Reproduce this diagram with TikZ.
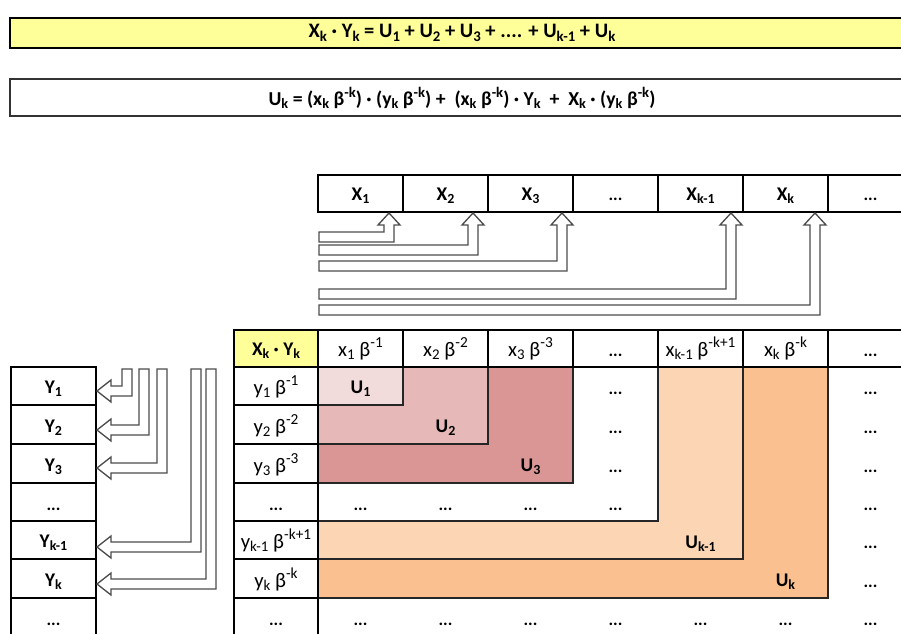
\documentclass[tikz,border=0pt]{standalone}
\usepackage{fontspec}
\usepackage{graphicx}
\setmainfont{Carlito}
\definecolor{banY}{HTML}{FFFF99}
\definecolor{cUa}{HTML}{F2DCDB}
\definecolor{cUb}{HTML}{E6B9B8}
\definecolor{cUc}{HTML}{D99694}
\definecolor{cUd}{HTML}{FCD5B5}
\definecolor{cUe}{HTML}{FAC090}
\newcommand{\sbs}[1]{\raisebox{-0.35ex}{\scalebox{0.72}{#1}}}
\newcommand{\sps}[1]{\raisebox{0.85ex}{\scalebox{0.74}{#1}}}
\newcommand{\harrowX}[2]{%
  \draw[hollow] (#1,213) -- (#1+11,225) -- (#1+5,225) -- (#1+5,#2+10) -- (319,#2+10) -- (319,#2) -- (#1-5,#2) -- (#1-5,225) -- (#1-11,225) -- cycle;}
\newcommand{\harrowY}[2]{%
  \draw[hollow] (97,#1) -- (111,#1-11) -- (111,#1-5) -- (#2,#1-5) -- (#2,369) -- (#2+10,369) -- (#2+10,#1+5) -- (111,#1+5) -- (111,#1+11) -- cycle;}
\tikzset{
  hollow/.style={draw=black!70, line width=1pt, fill=white, line join=miter},
  thickb/.style={line width=1.8pt, draw=black},
  medb/.style={line width=1.1pt, draw=black},
  thinb/.style={line width=0.8pt, draw=black!85},
  lbl/.style={anchor=base, inner sep=0pt, font=\fontsize{14.5}{16}\selectfont\bfseries},
  rlbl/.style={anchor=base, inner sep=0pt, font=\fontsize{15.5}{17}\selectfont},
  dots/.style={anchor=base, inner sep=0pt, font=\fontsize{13}{15}\selectfont\bfseries},
  ban/.style={anchor=center, inner sep=0pt, font=\fontsize{14.8}{17}\selectfont\bfseries}
}
\begin{document}
\begin{tikzpicture}[x=0.75pt,y=-0.75pt]
\useasboundingbox (0,0) rectangle (901,633);
\clip (0,0) rectangle (901,633);
% banners
\path[thickb, fill=banY] (10,18) rectangle (916,48);
\node[ban, font=\fontsize{15.4}{17}\selectfont\bfseries] (f1) at (462,33) {X\sbs{k} · Y\sbs{k} = U\sbs{1} + U\sbs{2} + U\sbs{3} + .... + U\sbs{k-1} + U\sbs{k}};
\path[draw=black!80, line width=1pt] (10,79) rectangle (916,116);
\node[ban] (f2) at (462,98) {U\sbs{k} = (x\sbs{k} β\sps{-k}) · (y\sbs{k} β\sps{-k}) +\ \ (x\sbs{k} β\sps{-k}) · Y\sbs{k}\ \ +\ \ X\sbs{k} · (y\sbs{k} β\sps{-k})};
% X row
\path[thickb] (318,175) rectangle (916,212);
\foreach \c in {403,488,573,658,743,828} \draw[medb] (\c,175) -- (\c,212);
\node[lbl] (x1) at (360.5,200) {X\sbs{1}};
\node[lbl] (x2) at (445.5,200) {X\sbs{2}};
\node[lbl] (x3) at (530.5,200) {X\sbs{3}};
\node[dots] (x4) at (615.5,200) {...};
\node[lbl] (x5) at (700.5,200) {X\sbs{k-1}};
\node[lbl] (x6) at (785.5,200) {X\sbs{k}};
\node[dots] (x7) at (870.5,200) {...};
% X arrows
\harrowX{389}{232}
\harrowX{473}{245}
\harrowX{562}{261}
\harrowX{731}{289}
\harrowX{815}{305}
% coloured regions
\path[thinb, fill=cUe] (318,367) rectangle (828,598);
\path[thinb, fill=cUd] (318,367) rectangle (743,559);
\path[thinb, fill=white] (318,367) rectangle (658,521);
\path[thinb, fill=cUc] (318,367) rectangle (573,483);
\path[thinb, fill=cUb] (318,367) rectangle (488,444);
\path[thinb, fill=cUa] (318,367) rectangle (403,405);
% table grid
\path[fill=banY] (234,330) rectangle (318,367);
\foreach \c in {403,488,573,658,743,828} \draw[medb] (\c,330) -- (\c,367);
\foreach \r in {405,444,483,521,559,598} \draw[medb] (234,\r) -- (318,\r);
\draw[thickb] (234,330) -- (916,330);
\draw[thickb] (234,367) -- (916,367);
\draw[thickb] (234,329) -- (234,640);
\draw[thickb] (318,330) -- (318,640);
% Y column
\path[thickb] (11,367) rectangle (96,650);
\foreach \r in {405,444,483,521,559,598} \draw[thickb] (11,\r) -- (96,\r);
% Y arrows
\harrowY{391}{122}
\harrowY{430}{139}
\harrowY{468}{157}
\harrowY{547}{191}
\harrowY{584}{206}
% Y labels
\node[lbl] (y1) at (53.5,393) {Y\sbs{1}};
\node[lbl] (y2) at (53.5,432) {Y\sbs{2}};
\node[lbl] (y3) at (53.5,471) {Y\sbs{3}};
\node[dots] (y4) at (53.5,510) {...};
\node[lbl] (y5) at (53.5,547) {Y\sbs{k-1}};
\node[lbl] (y6) at (53.5,586) {Y\sbs{k}};
\node[dots] (y7) at (53.5,625) {...};
% header row
\node[lbl] (h0) at (276,355) {X\sbs{k} · Y\sbs{k}};
\node[rlbl] (h1) at (360.5,356) {x\sbs{1} β\sps{-1}};
\node[rlbl] (h2) at (445.5,356) {x\sbs{2} β\sps{-2}};
\node[rlbl] (h3) at (530.5,356) {x\sbs{3} β\sps{-3}};
\node[dots] (h4) at (615.5,356) {...};
\node[rlbl] (h5) at (700.5,356) {x\sbs{k-1} β\sps{-k+1}};
\node[rlbl] (h6) at (785.5,356) {x\sbs{k} β\sps{-k}};
\node[dots] (h7) at (870.5,356) {...};
% row headers
\node[rlbl] (v1) at (276,394) {y\sbs{1} β\sps{-1}};
\node[rlbl] (v2) at (276,433) {y\sbs{2} β\sps{-2}};
\node[rlbl] (v3) at (276,472) {y\sbs{3} β\sps{-3}};
\node[dots] (v4) at (276,510) {...};
\node[rlbl] (v5) at (276,548) {y\sbs{k-1} β\sps{-k+1}};
\node[rlbl] (v6) at (276,587) {y\sbs{k} β\sps{-k}};
\node[dots] (v7) at (276,625) {...};
% U labels
\node[lbl] (u1) at (360.5,393) {U\sbs{1}};
\node[lbl] (u2) at (445.5,432) {U\sbs{2}};
\node[lbl] (u3) at (530.5,471) {U\sbs{3}};
\node[lbl] (u4) at (700.5,548) {U\sbs{k-1}};
\node[lbl] (u5) at (785.5,586) {U\sbs{k}};
% dots in cells
\node[dots] (d14) at (615.5,394) {...};
\node[dots] (d24) at (615.5,433) {...};
\node[dots] (d34) at (615.5,472) {...};
\node[dots] (d44) at (615.5,510) {...};
\node[dots] (d41) at (360.5,510) {...};
\node[dots] (d42) at (445.5,510) {...};
\node[dots] (d43) at (530.5,510) {...};
\foreach \r/\n in {394/1,433/2,472/3,510/4,548/5,587/6,625/7}
  \node[dots] (d\n7) at (870.5,\r) {...};
\foreach \c/\n in {360.5/1,445.5/2,530.5/3,615.5/4,700.5/5,785.5/6}
  \node[dots] (d7\n) at (\c,625) {...};
\end{tikzpicture}
\end{document}
